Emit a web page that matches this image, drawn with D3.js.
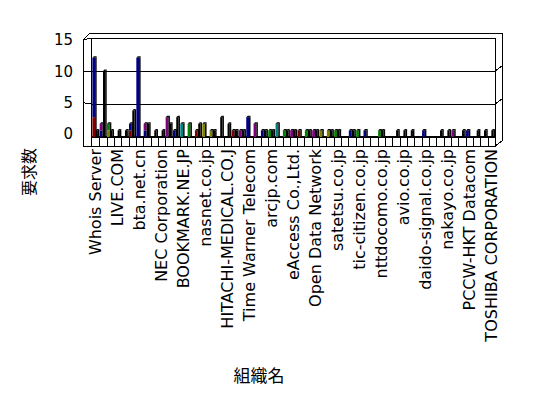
<!DOCTYPE html>
<html>
<head>
<meta charset="utf-8">
<script src="https://cdn.jsdelivr.net/npm/d3@7"></script>
<style>
  body { margin: 0; background: #fff; }
  text { font-family: "DejaVu Sans", sans-serif; fill: #000; }
  .cjk { font-family: "Noto Sans CJK JP", sans-serif; }
</style>
</head>
<body>
<div id="chart"></div>
<script>
const width = 548;
const height = 398;

// categories are the 55 organisations; only every third one gets a label
const categoryCount = 55;
const labelEvery = 3;
const tickLabels = [
  "Whois Server", "LIVE.COM", "bta.net.cn", "NEC Corporation", "BOOKMARK.NE.JP",
  "nasnet.co.jp", "HITACHI-MEDICAL.CO.J", "Time Warner Telecom", "arcjp.com",
  "eAccess Co.,Ltd.", "Open Data Network", "satetsu.co.jp", "tic-citizen.co.jp",
  "nttdocomo.co.jp", "avio.co.jp", "daido-signal.co.jp", "nakayo.co.jp",
  "PCCW-HKT Datacom", "TOSHIBA CORPORATION"
];
const yTicks = [0, 5, 10, 15];

// stacked front column, bottom to top
const maroonVals = [3,0,0,0,0,1,0,0,0,0, 0,0,0,0,1,0,0,0,0,1, 0,0,0,0,0,0,0,0,1,0, 0,0,0,0,0,0,0,0,0,0, 0,0,0,0,0,0,0,0,0,0, 0,0,0,0,0];
const navyVals   = [9,1,0,0,0,1,12,1,0,0, 0,1,0,0,0,0,0,0,0,0, 0,3,0,1,0,0,0,0,0,0, 0,0,0,0,0,1,0,1,0,0, 0,0,0,0,0,1,0,0,0,0, 0,1,0,0,0];
const oliveVals  = [0,0,1,0,0,0,0,0,0,0, 0,0,0,0,0,2,1,0,0,0, 0,0,0,0,0,0,0,0,0,0, 0,1,1,0,0,0,0,0,0,0, 0,0,0,0,0,0,0,0,0,0, 0,0,0,0,0];
const tealVals   = [0,0,0,0,0,0,0,0,0,0, 0,0,2,0,0,0,0,0,0,0, 0,0,0,0,0,2,0,0,0,0, 0,0,0,0,0,0,0,0,0,0, 0,0,0,0,0,0,0,0,0,0, 0,0,0,0,0];
const greenVals  = [0,0,1,0,0,0,0,0,0,0, 0,0,0,2,0,0,0,0,0,0, 0,0,0,0,1,0,1,0,0,1, 0,0,0,1,0,0,1,0,0,1, 0,0,0,0,0,0,0,0,0,0, 0,0,0,0,0];
const purpleVals = [0,1,0,0,0,0,0,1,0,0, 3,0,0,0,0,0,0,0,0,0, 1,0,2,0,0,0,0,1,0,0, 1,0,0,0,0,0,0,0,0,0, 0,0,0,0,0,0,0,0,0,1, 0,0,0,0,0];
// second (black) column
const blackVals  = [1,10,1,1,1,4,0,2,1,1, 2,3,0,0,2,0,1,3,2,1, 1,0,0,1,1,0,1,1,0,1, 1,0,1,1,0,1,0,0,0,1, 0,1,1,1,0,0,0,1,1,0, 1,0,1,1,1];

const stackSeries = [
  { key: "maroon", values: maroonVals, color: "#800000" },
  { key: "navy", values: navyVals, color: "#000080" },
  { key: "olive", values: oliveVals, color: "#808000" },
  { key: "teal", values: tealVals, color: "#008080" },
  { key: "green", values: greenVals, color: "#008000" },
  { key: "purple", values: purpleVals, color: "#800080" }
];

const categories = d3.range(categoryCount);
const wall = { left: 91, right: 495, dx: 7, dy: -5, frontLeft: 83, floorBottom: 146 };

const svg = d3.select("#chart")
  .append("svg")
  .attr("width", width)
  .attr("height", height)
  .style("background", "#fff");

const x = d3.scaleBand()
  .domain(categories)
  .range([92, 495]);

const y = d3.scaleLinear()
  .domain([0, 15])
  .range([137, 38]);

// labels sit on the front edge of the side wall
const yFront = d3.scaleLinear()
  .domain([0, 15])
  .range([134, 40]);

const line = (x1, y1, x2, y2, w) => svg.append("line")
  .attr("x1", x1).attr("y1", y1).attr("x2", x2).attr("y2", y2)
  .attr("stroke", "#000").attr("stroke-width", w || 1)
  .attr("shape-rendering", "crispEdges");

// walls (Excel style slabs)
const yTop = y(15);
line(wall.left, yTop, wall.right, yTop);
line(wall.frontLeft + 7, yTop + wall.dy, wall.right + wall.dx, yTop + wall.dy);
line(wall.frontLeft, yFront(15), wall.frontLeft + 7, yTop + wall.dy);
line(wall.frontLeft, yFront(15), wall.left, yTop);
line(wall.frontLeft, yFront(15), wall.frontLeft, wall.floorBottom);
line(wall.left, yTop, wall.left, y(0));
line(wall.right, yTop, wall.right, wall.floorBottom);
line(wall.right + wall.dx, yTop + wall.dy, wall.right + wall.dx, wall.floorBottom + wall.dy);
line(wall.right, wall.floorBottom, wall.right + wall.dx, wall.floorBottom + wall.dy);

// gridlines on back wall
svg.append("g")
  .attr("transform", `translate(${wall.left},0)`)
  .call(d3.axisLeft(y).tickValues(yTicks.filter(d => d > 0 && d < 15)).tickSize(-(wall.right - wall.left)).tickFormat(""))
  .call(g => g.select(".domain").remove())
  .call(g => g.selectAll("line").attr("shape-rendering", "crispEdges"));

yTicks.filter(d => d > 0 && d < 15).forEach(d => {
  line(wall.frontLeft, yFront(d), wall.left, y(d));
  line(wall.right, y(d), wall.right + wall.dx, y(d) + wall.dy);
});

// floor front face with one cell per category
svg.append("rect")
  .attr("x", wall.left)
  .attr("y", y(0))
  .attr("width", wall.right - wall.left)
  .attr("height", wall.floorBottom - y(0))
  .attr("fill", "#fff")
  .attr("stroke", "#000")
  .attr("shape-rendering", "crispEdges");
line(wall.frontLeft, wall.floorBottom, wall.left, wall.floorBottom);
line(wall.left, y(0), wall.right, y(0), 2);

svg.append("g")
  .selectAll("line")
  .data(categories.slice(1))
  .join("line")
    .attr("x1", d => Math.round(x(d)) + 0.5)
    .attr("x2", d => Math.round(x(d)) + 0.5)
    .attr("y1", y(0))
    .attr("y2", wall.floorBottom)
    .attr("stroke", "#000");

// y tick labels
svg.append("g")
  .attr("transform", `translate(73,0)`)
  .call(d3.axisLeft(yFront).tickValues(yTicks).tickSize(0).tickPadding(0))
  .call(g => g.select(".domain").remove())
  .call(g => g.selectAll("text").style("font-size", "15px").style("font-family", "DejaVu Sans"));

// bars
const depth = 1.5;
const bw = x.bandwidth();
const base = y(0);

function drawBar(g, x0, w, top) {
  g.append("polygon")
    .attr("points", [[x0, top], [x0 + depth, top - depth], [x0 + w + depth, top - depth], [x0 + w, top]].join(" "))
    .attr("fill", "#000");
  g.append("polygon")
    .attr("points", [[x0 + w, top], [x0 + w + depth, top - depth], [x0 + w + depth, base - depth], [x0 + w, base]].join(" "))
    .attr("fill", "#000");
}

const barsG = svg.append("g");
categories.forEach(i => {
  const g = barsG.append("g");
  const x0 = x(i);
  // black second column
  if (blackVals[i] > 0) {
    const bx = x0 + bw * 0.5;
    g.append("rect")
      .attr("x", bx).attr("y", y(blackVals[i]))
      .attr("width", bw * 0.3).attr("height", base - y(blackVals[i]))
      .attr("fill", "#000");
    drawBar(g, bx, bw * 0.3, y(blackVals[i]));
  }
  // colored stacked column
  let acc = 0;
  const cx = x0 + bw * 0.05;
  const cw = bw * 0.38;
  stackSeries.forEach(s => {
    const v = s.values[i];
    if (v > 0) {
      g.append("rect")
        .attr("x", cx).attr("y", y(acc + v))
        .attr("width", cw).attr("height", y(acc) - y(acc + v))
        .attr("fill", s.color);
      acc += v;
    }
  });
  if (acc > 0) drawBar(g, cx, cw, y(acc));
});

// category labels
svg.append("g")
  .selectAll("text")
  .data(tickLabels)
  .join("text")
    .attr("transform", (d, k) => `translate(${x(k * labelEvery) + bw / 2},149) rotate(-90)`)
    .attr("text-anchor", "end")
    .attr("dy", "0.36em")
    .style("font-size", "16px")
    .text(d => d);

// axis titles
svg.append("text")
  .attr("class", "cjk")
  .attr("transform", "translate(29,172) rotate(-90)")
  .attr("text-anchor", "middle")
  .attr("dy", "0.36em")
  .style("font-size", "16px")
  .text("要求数");

svg.append("text")
  .attr("class", "cjk")
  .attr("x", 259)
  .attr("y", 382)
  .attr("text-anchor", "middle")
  .style("font-size", "17px")
  .text("組織名");
</script>
</body>
</html>
